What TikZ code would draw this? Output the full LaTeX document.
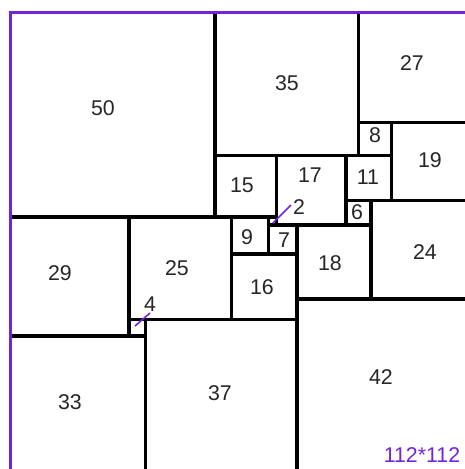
\documentclass[tikz,border=0pt]{standalone}
\usepackage{fontspec}
\setmainfont{Liberation Sans}
\definecolor{framecol}{RGB}{112,36,224}
\begin{document}
\begin{tikzpicture}[x=0.75pt,y=-0.75pt,
  sq/.style={draw=black,line width=2.6pt},
  lab/.style={font=\fontsize{16}{16}\selectfont,inner sep=0pt,text=black!85},
  tag/.style={font=\fontsize{16}{16}\selectfont,inner sep=0pt,text=framecol},
  leader/.style={draw=framecol,line width=1.2pt}]
\useasboundingbox (0,0) rectangle (465,469);
\fill[white] (0,0) rectangle (465,469);
\begin{scope}
\clip (0,0) rectangle (465,469);
\begin{scope}[xshift=7.5pt,yshift=-9pt,x=3.075pt,y=-3.075pt]
  \clip (0,0) rectangle (112,112);
  \draw[sq] (0,0) rectangle (50,50);
  \draw[sq] (50,0) rectangle (85,35);
  \draw[sq] (85,0) rectangle (112,27);
  \draw[sq] (85,27) rectangle (93,35);
  \draw[sq] (93,27) rectangle (112,46);
  \draw[sq] (50,35) rectangle (65,50);
  \draw[sq] (65,35) rectangle (82,52);
  \draw[sq] (82,35) rectangle (93,46);
  \draw[sq] (82,46) rectangle (88,52);
  \draw[sq] (88,46) rectangle (112,70);
  \draw[sq] (0,50) rectangle (29,79);
  \draw[sq] (29,50) rectangle (54,75);
  \draw[sq] (54,50) rectangle (63,59);
  \draw[sq] (63,50) rectangle (65,52);
  \draw[sq] (63,52) rectangle (70,59);
  \draw[sq] (70,52) rectangle (88,70);
  \draw[sq] (54,59) rectangle (70,75);
  \draw[sq] (70,70) rectangle (112,112);
  \draw[sq] (29,75) rectangle (33,79);
  \draw[sq] (33,75) rectangle (70,112);
  \draw[sq] (0,79) rectangle (33,112);
\end{scope}
\draw[framecol,line width=2.2pt] (10.5,12.5) rectangle (470,472);
\end{scope}
\node[lab] (n50) at (103,108) {50};
\node[lab] (n35) at (287,83) {35};
\node[lab] (n27) at (412,63) {27};
\node[lab] (n8) at (375,135) {8};
\node[lab] (n19) at (430,160) {19};
\node[lab] (n15) at (242,185) {15};
\node[lab] (n17) at (310,175) {17};
\node[lab] (n11) at (368,177) {11};
\node[lab] (n6) at (357,212) {6};
\node[lab] (n24) at (425,252) {24};
\node[lab] (n29) at (60,273) {29};
\node[lab] (n25) at (177,268) {25};
\node[lab] (n9) at (247,237) {9};
\node[lab] (n7) at (284,240) {7};
\node[lab] (n2) at (299,207) {2};
\node[lab] (n18) at (330,263) {18};
\node[lab] (n16) at (262,287) {16};
\node[lab] (n42) at (381,377) {42};
\node[lab] (n4) at (150,304) {4};
\node[lab] (n37) at (220,393) {37};
\node[lab] (n33) at (70,402) {33};
\node[tag] (size) at (422,455) {112*112};
\coordinate (p2a) at (273,223);
\coordinate (p2b) at (291,205);
\coordinate (p4a) at (135,326);
\coordinate (p4b) at (150,313);
\draw[leader] (p2a) -- (p2b);
\draw[leader] (p4a) -- (p4b);
\end{tikzpicture}
\end{document}
